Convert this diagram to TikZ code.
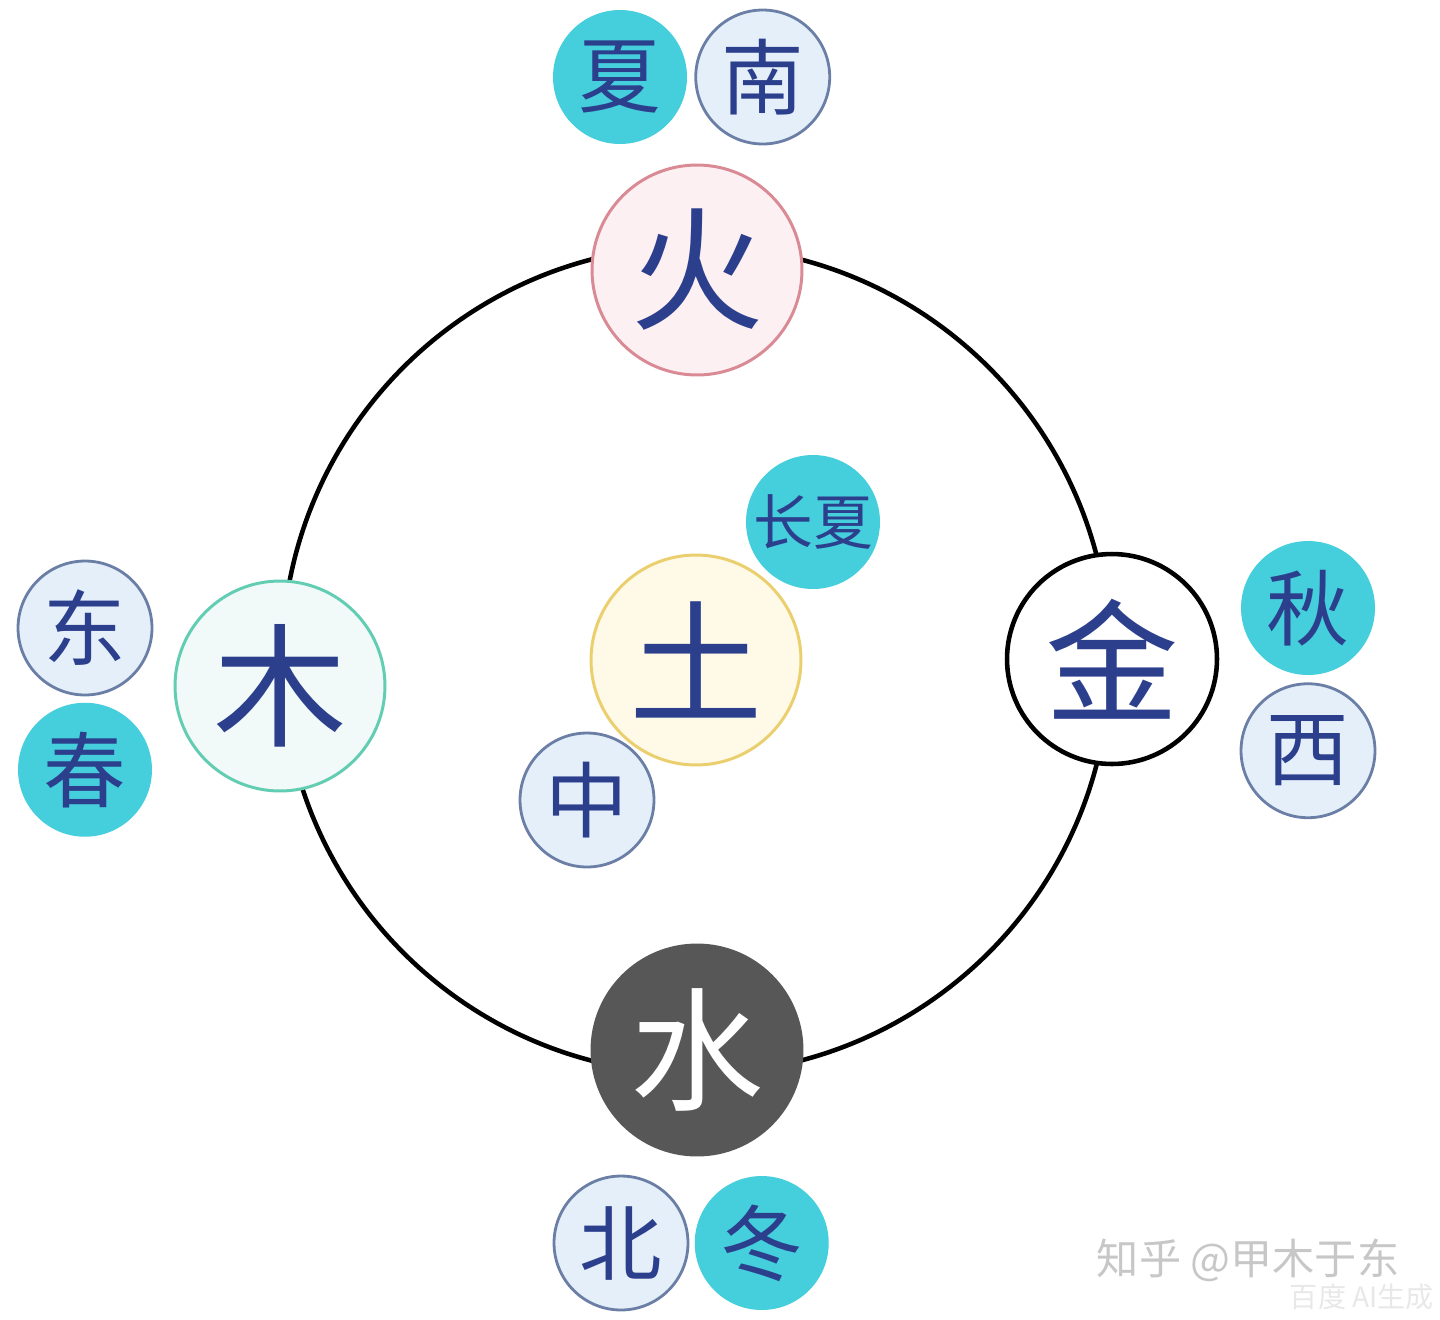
\documentclass[tikz,border=0pt]{standalone}
\usepackage{fontspec}
\setmainfont{Noto Sans CJK SC}
\usepackage{tikz}
\usetikzlibrary{positioning, backgrounds}

\definecolor{ink}{HTML}{2B3F8C}
\definecolor{seasonfill}{HTML}{45CEDC}
\definecolor{dirfill}{HTML}{E4EFFA}
\definecolor{dirline}{HTML}{6B7FA6}
\definecolor{huofill}{HTML}{FDF0F3}
\definecolor{huoline}{HTML}{D98A94}
\definecolor{tufill}{HTML}{FFFAE8}
\definecolor{tuline}{HTML}{EBCF6E}
\definecolor{mufill}{HTML}{F1FAF9}
\definecolor{muline}{HTML}{62CDB3}
\definecolor{shuifill}{HTML}{575757}

\begin{document}
\begin{tikzpicture}[
  x=0.02cm, y=-0.02cm,
  elem/.style={circle, draw, line width=1.7pt, minimum size=4.2cm,
    inner sep=0pt, text=ink, font=\fontsize{76}{80}\selectfont},
  season/.style={circle, fill=seasonfill, minimum size=2.68cm,
    inner sep=0pt, text=ink, font=\fontsize{47}{50}\selectfont},
  dir/.style={season, fill=dirfill, draw=dirline, line width=1.6pt},
  ring/.style={line width=2.6pt},
  wmark/.style={text=black!22, font=\fontsize{24}{28}\selectfont},
]
  \useasboundingbox (0,0) rectangle (1440,1319);

  % Five elements
  \node[elem, fill=huofill, draw=huoline] (huo) at (697,270) {火};
  \node[elem, fill=tufill, draw=tuline] (tu) at (696,660) {土};
  \node[elem, fill=mufill, draw=muline] (mu) at (280,686) {木};
  \node[elem, fill=white, draw=black, line width=2.6pt] (jin) at (1112,659) {金};
  \node[elem, fill=shuifill, draw=shuifill, text=white] (shui) at (697,1050) {水};

  % Seasons and directions
  \node[season] (xia) at (620,77) {夏};
  \node[dir, right=0.14cm of xia] (nan) {南};
  \node[season, font=\fontsize{34}{38}\selectfont] (changxia) at (813,522) {长夏};
  \node[dir] (zhong) at (587,800) {中};
  \node[dir] (dongfang) at (85,628) {东};
  \node[season, below=0.12cm of dongfang] (chun) {春};
  \node[season] (qiu) at (1308,608) {秋};
  \node[dir, below=0.14cm of qiu] (xi) {西};
  \node[dir] (bei) at (621,1243) {北};
  \node[season, right=0.1cm of bei] (dongji) {冬};

  % Ring behind the elements
  \begin{scope}[on background layer]
    \draw[ring] (tu.center) circle[radius=8.28cm];
  \end{scope}

  % Watermark
  \node[wmark] (zhihu) at (1248,1260) {知乎 @甲木于东};
  \node[wmark, text=black!9, font=\fontsize{16}{18}\selectfont] (baidu) at (1362,1297) {百度 AI生成};
\end{tikzpicture}
\end{document}
